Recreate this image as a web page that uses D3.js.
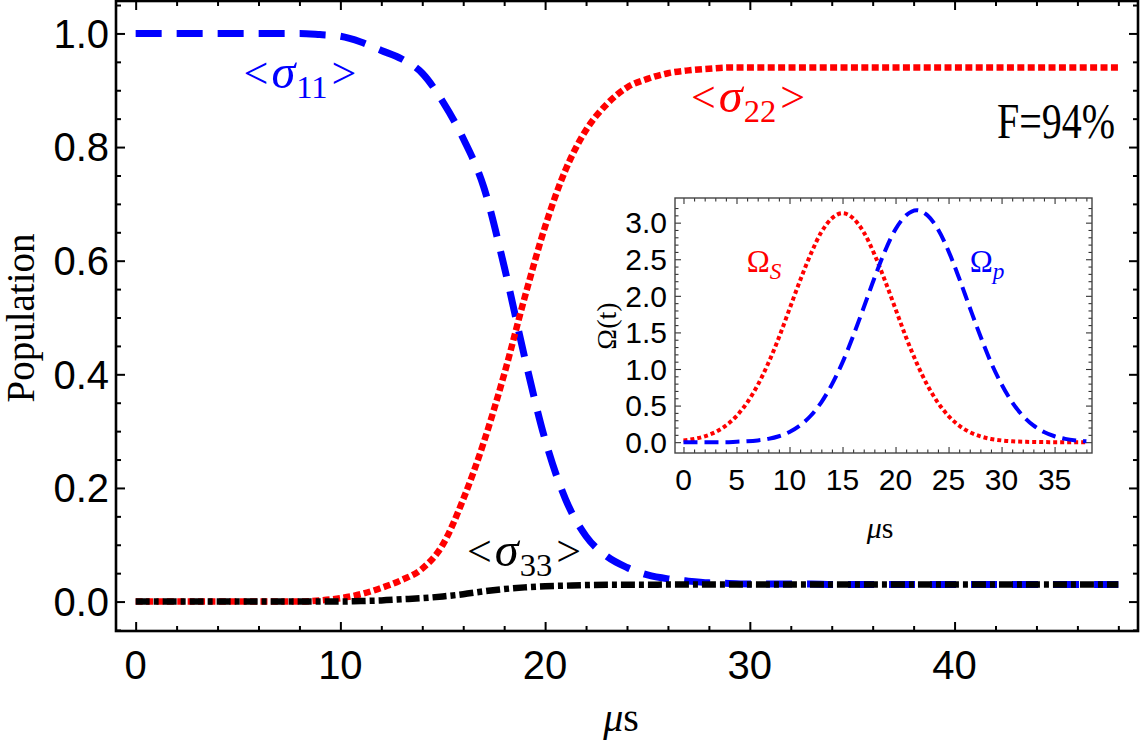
<!DOCTYPE html>
<html>
<head>
<script src="https://cdnjs.cloudflare.com/ajax/libs/d3/7.8.5/d3.min.js"></script>
<style>
  body { margin: 0; background: #fff; }
</style>
</head>
<body>
<svg id="chart" width="1140" height="744"></svg>
<script>
// main plot: populations vs time (us)
var time = d3.range(0, 49);
var sigma11 = [1, 1, 1, 1, 1, 1, 1, 1, 1, 0.998, 0.995, 0.985, 0.97, 0.955, 0.93, 0.88, 0.815, 0.73, 0.59, 0.43,
  0.285, 0.18, 0.115, 0.08, 0.06, 0.047, 0.04, 0.036, 0.033, 0.032, 0.031, 0.031, 0.031, 0.031, 0.03, 0.03,
  0.03, 0.03, 0.03, 0.03, 0.03, 0.03, 0.03, 0.03, 0.03, 0.03, 0.03, 0.03, 0.03];
var sigma22 = [0, 0, 0, 0, 0, 0, 0, 0, 0, 0.002, 0.006, 0.013, 0.024, 0.038, 0.058, 0.1, 0.18, 0.28, 0.4, 0.535,
  0.66, 0.76, 0.83, 0.875, 0.905, 0.92, 0.93, 0.935, 0.938, 0.94, 0.94, 0.94, 0.94, 0.94, 0.94, 0.94,
  0.94, 0.94, 0.94, 0.94, 0.94, 0.94, 0.94, 0.94, 0.94, 0.94, 0.94, 0.94, 0.94];
var sigma33 = [0, 0, 0, 0, 0, 0, 0, 0, 0, 0, 0, 0.001, 0.002, 0.004, 0.006, 0.009, 0.013, 0.018, 0.022, 0.025,
  0.027, 0.028, 0.029, 0.0295, 0.0295, 0.0295, 0.03, 0.03, 0.03, 0.03, 0.03, 0.03, 0.03, 0.03, 0.03, 0.03,
  0.03, 0.03, 0.03, 0.03, 0.03, 0.03, 0.03, 0.03, 0.03, 0.03, 0.03, 0.03, 0.03];
var xTicks = [0, 10, 20, 30, 40];
var yTicks = [0, 0.2, 0.4, 0.6, 0.8, 1.0];

// inset: pulse shapes
var tInset = d3.range(0, 39);
var omegaS = [0.024, 0.044, 0.08, 0.137, 0.226, 0.357, 0.54, 0.78, 1.08, 1.43, 1.82, 2.21, 2.57, 2.87, 3.06, 3.13,
  3.06, 2.87, 2.57, 2.21, 1.82, 1.43, 1.08, 0.78, 0.54, 0.357, 0.226, 0.137, 0.08, 0.044, 0.024, 0.012,
  0.006, 0.003, 0.001, 0, 0, 0, 0];
var omegaP = [0, 0, 0, 0, 0, 0.006, 0.012, 0.024, 0.045, 0.081, 0.139, 0.229, 0.361, 0.545, 0.79, 1.09, 1.45,
  1.84, 2.24, 2.61, 2.91, 3.1, 3.17, 3.1, 2.91, 2.61, 2.24, 1.84, 1.45, 1.09, 0.79, 0.545, 0.361, 0.229,
  0.139, 0.081, 0.045, 0.024, 0.012];
var insetXTicks = [0, 5, 10, 15, 20, 25, 30, 35];
var insetYTicks = [0, 0.5, 1, 1.5, 2, 2.5, 3];

var sans = "'Liberation Sans', Arial, sans-serif";
var serif = "'Liberation Serif', 'Times New Roman', serif";

var svg = d3.select("#chart");

// ---------- main panel ----------
var box = {left: 116, right: 1138, top: 1, bottom: 631};
var x = d3.scaleLinear().domain([-0.96, 48.96]).range([box.left, box.right]);
var y = d3.scaleLinear().domain([-0.0518, 1.0571]).range([box.bottom, box.top]);

function frameTicks(g, xs, ys, b, xMajor, xMinor, yMajor, yMinor, big, small, width) {
  var mk = function(axis, vals, size) {
    return axis.tickValues(vals).tickSize(size).tickFormat("");
  };
  var sides = function(vx, vy) {
    return [
      [d3.axisBottom(xs), vx, "translate(0," + b.bottom + ")"],
      [d3.axisTop(xs), vx, "translate(0," + b.top + ")"],
      [d3.axisLeft(ys), vy, "translate(" + b.left + ",0)"],
      [d3.axisRight(ys), vy, "translate(" + b.right + ",0)"]
    ];
  };
  sides(xMajor, yMajor).forEach(function(p) {
    g.append("g").attr("transform", p[2]).call(mk(p[0], p[1], -big));
  });
  sides(xMinor, yMinor).forEach(function(p) {
    g.append("g").attr("transform", p[2]).call(mk(p[0], p[1], -small));
  });
  g.selectAll(".domain").remove();
  g.selectAll(".tick line").attr("stroke", "#000").attr("stroke-width", width);
}

var mainTicks = svg.append("g");
frameTicks(mainTicks, x, y, box, xTicks,
  d3.range(0, 49, 2).filter(function(v) { return v % 10 !== 0; }),
  yTicks, d3.range(-0.05, 1.051, 0.05).filter(function(v) { return Math.abs(v * 5 - Math.round(v * 5)) > 0.01; }),
  9, 5, 2);

svg.append("rect").attr("x", box.left).attr("y", box.top)
  .attr("width", box.right - box.left).attr("height", box.bottom - box.top)
  .attr("fill", "none").attr("stroke", "#000").attr("stroke-width", 2.6);

// tick labels
svg.append("g").selectAll("text").data(xTicks).join("text")
  .attr("x", function(d) { return x(d); }).attr("y", 679)
  .attr("text-anchor", "middle").attr("font-family", sans).attr("font-size", 40)
  .text(function(d) { return d; });
svg.append("g").selectAll("text").data(yTicks).join("text")
  .attr("x", 109).attr("y", function(d) { return y(d) + 14.3; })
  .attr("text-anchor", "end").attr("font-family", sans).attr("font-size", 40)
  .text(function(d) { return d3.format(".1f")(d); });

// curves
var line = d3.line().x(function(d) { return x(d[0]); }).y(function(d) { return y(d[1]); })
  .curve(d3.curveMonotoneX);
var series = [
  {vals: sigma11, color: "#0000ff", width: 7, dash: "26,15"},
  {vals: sigma22, color: "#ff0000", width: 6.5, dash: "7,3.4"},
  {vals: sigma33, color: "#000000", width: 6.5, dash: "14,4,5,4"}
];
series.forEach(function(s) {
  svg.append("path")
    .attr("d", line(time.map(function(t, i) { return [t, s.vals[i]]; })))
    .attr("fill", "none").attr("stroke", s.color).attr("stroke-width", s.width)
    .attr("stroke-dasharray", s.dash);
});

// labels: parts = [{text, italic, sub, scale, dx}]
function label(px, py, size, color, parts, stretch) {
  var g = svg.append("g")
    .attr("transform", "translate(" + px + "," + py + ") scale(1," + (stretch || 1) + ")");
  var t = g.append("text").attr("x", 0).attr("y", 0)
    .attr("font-family", serif).attr("font-size", size).attr("fill", color)
    .attr("text-anchor", "middle");
  var shift = 0;
  parts.forEach(function(p) {
    var s = t.append("tspan").text(p.text);
    if (p.italic) s.attr("font-style", "italic");
    if (p.scale) s.attr("font-size", size * p.scale);
    if (p.dx) s.attr("dx", p.dx);
    var want = p.sub ? size * 0.22 : 0;
    if (want !== shift) { s.attr("dy", want - shift); shift = want; }
  });
  return t;
}

function bracket(n) {
  return [{text: "<"}, {text: "\u03c3", italic: true, scale: 1.1, dx: 3},
    {text: n, sub: true, scale: 0.74, dx: 1}, {text: ">", dx: 4}];
}
label(300, 88, 44, "#0000ff", bracket("11"));
label(748, 112, 44, "#ff0000", bracket("22"));
label(1056, 138, 40, "#000", [{text: "F=94%"}], 1.25);
label(524, 566, 44, "#000", bracket("33"));

svg.append("text").attr("transform", "translate(34,318) rotate(-90)")
  .attr("text-anchor", "middle").attr("font-family", serif).attr("font-size", 39)
  .text("Population");
label(621, 731, 40, "#000", [{text: "\u03bc", italic: true}, {text: "s"}]);

// ---------- inset ----------
var ib = {left: 675, right: 1092, top: 198, bottom: 453};
var ix = d3.scaleLinear().domain([-0.8, 38.53]).range([ib.left, ib.right]);
var iy = d3.scaleLinear().domain([-0.148, 3.337]).range([ib.bottom, ib.top]);

svg.append("rect").attr("x", ib.left).attr("y", ib.top)
  .attr("width", ib.right - ib.left).attr("height", ib.bottom - ib.top)
  .attr("fill", "#fff");

var insetTicks = svg.append("g");
frameTicks(insetTicks, ix, iy, ib, insetXTicks,
  d3.range(0, 39).filter(function(v) { return v % 5 !== 0; }),
  insetYTicks, d3.range(0, 33).map(function(v) { return v / 10; }).filter(function(v, i) { return i % 5 !== 0; }),
  6, 3.5, 1.1);
insetTicks.selectAll(".tick line").attr("stroke", "#333");

svg.append("rect").attr("x", ib.left).attr("y", ib.top)
  .attr("width", ib.right - ib.left).attr("height", ib.bottom - ib.top)
  .attr("fill", "none").attr("stroke", "#444").attr("stroke-width", 1.4);

svg.append("g").selectAll("text").data(insetXTicks).join("text")
  .attr("x", function(d) { return ix(d); }).attr("y", 490)
  .attr("text-anchor", "middle").attr("font-family", sans).attr("font-size", 30)
  .text(function(d) { return d; });
svg.append("g").selectAll("text").data(insetYTicks).join("text")
  .attr("x", 667).attr("y", function(d) { return iy(d) + 10.7; })
  .attr("text-anchor", "end").attr("font-family", sans).attr("font-size", 30)
  .text(function(d) { return d3.format(".1f")(d); });

var iline = d3.line().x(function(d) { return ix(d[0]); }).y(function(d) { return iy(d[1]); })
  .curve(d3.curveMonotoneX);
svg.append("path")
  .attr("d", iline(tInset.map(function(t, i) { return [t, omegaS[i]]; })))
  .attr("fill", "none").attr("stroke", "#ff0000").attr("stroke-width", 4).attr("stroke-dasharray", "4,3");
svg.append("path")
  .attr("d", iline(tInset.map(function(t, i) { return [t, omegaP[i]]; })))
  .attr("fill", "none").attr("stroke", "#0000ff").attr("stroke-width", 4).attr("stroke-dasharray", "14,7");

label(764, 272, 31, "#ff0000", [{text: "\u03a9"}, {text: "S", italic: true, sub: true, scale: 0.75}]);
label(987, 272, 31, "#0000ff", [{text: "\u03a9"}, {text: "p", italic: true, sub: true, scale: 0.75}]);
svg.append("text").attr("transform", "translate(616,326) rotate(-90)")
  .attr("text-anchor", "middle").attr("font-family", serif).attr("font-size", 28)
  .text("\u03a9(t)");
label(880, 538, 30, "#000", [{text: "\u03bc", italic: true}, {text: "s"}]);
</script>
</body>
</html>
